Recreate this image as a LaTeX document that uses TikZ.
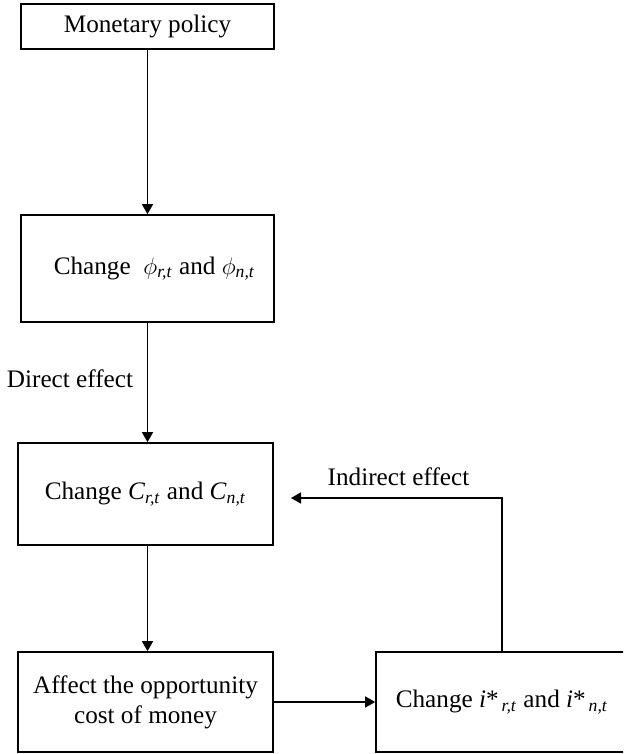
\documentclass[tikz,border=0pt]{standalone}
\usepackage{fontspec}
\setmainfont{Liberation Serif}
\usetikzlibrary{arrows.meta}
\newcommand{\subsc}[1]{\textsubscript{\textit{#1}}}
\begin{document}
\begin{tikzpicture}[x=0.5pt,y=-0.5pt,
  box/.style={draw, line width=0.8pt, inner sep=0pt, align=center, font=\fontsize{12.6}{15}\selectfont},
  arr/.style={line width=0.7pt, -{Triangle[length=5pt,width=5.5pt]}},
  lbl/.style={font=\fontsize{12.6}{15}\selectfont, inner sep=0pt, anchor=base}]
\useasboundingbox (0,0) rectangle (623,754);
\clip (0,0) rectangle (623,754);
\node[box, minimum width=126.5pt, minimum height=22.5pt] (b1) at (147.5,26.5) {Monetary policy};
\node[box, minimum width=126.5pt, minimum height=53.5pt] (b2) at (147.5,268.5) {\hspace*{7pt}Change\ \ $\phi$\subsc{r,t} and $\phi$\subsc{n,t}};
\node[box, minimum width=127.5pt, minimum height=51pt] (b3) at (145.5,494) {Change \textit{C}\subsc{r,t} and \textit{C}\subsc{n,t}};
\node[box, minimum width=127.5pt, minimum height=50pt] (b4) at (145.5,702) {Affect the opportunity\\cost of money};
\node[box, minimum width=126pt, minimum height=50pt] (b5) at (502,702) {Change \textit{i}*\subsc{\,r,t} and \textit{i}*\subsc{\,n,t}};
\coordinate (ie) at (291,498);
\node[lbl] (de) at (70,387) {Direct effect};
\node[lbl] (ied) at (398.5,485) {Indirect effect};
\draw[arr] (b1.south) -- (b1.south |- b2.north);
\draw[arr] (b2.south -| b1.south) -- (b3.north -| b1.south);
\draw[arr] (b3.south -| b1.south) -- (b4.north -| b1.south);
\draw[arr] (b4.east) -- (b5.west);
\draw[arr] (b5.north) |- (ie);
\end{tikzpicture}
\end{document}
